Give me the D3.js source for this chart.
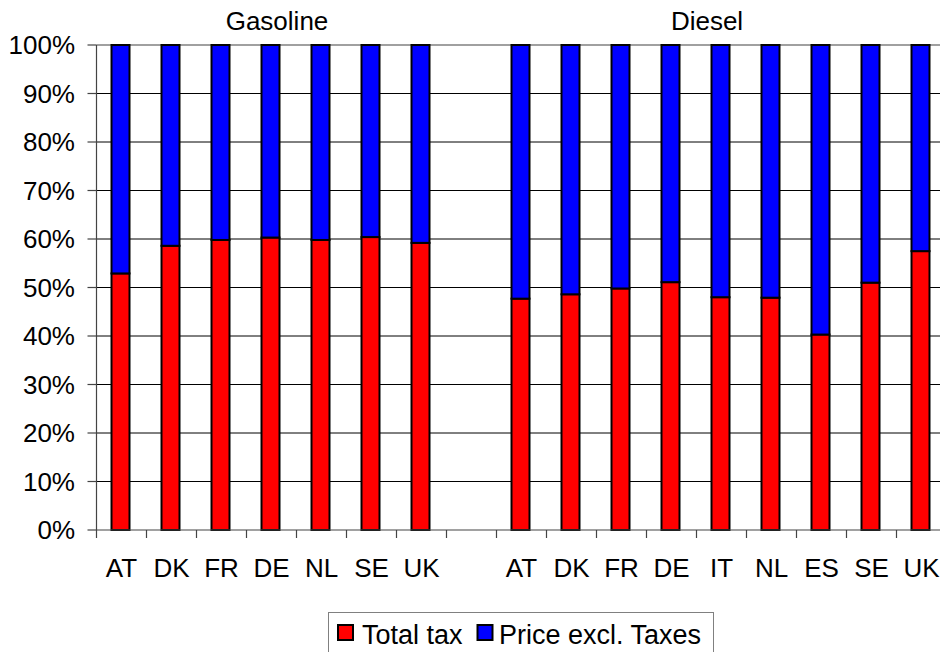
<!DOCTYPE html>
<html>
<head>
<meta charset="utf-8">
<script src="https://cdn.jsdelivr.net/npm/d3@7"></script>
<style>
  html, body { margin: 0; padding: 0; background: #fff; }
  svg { display: block; font-family: "Liberation Sans", Arial, sans-serif; }
</style>
</head>
<body>
<svg id="chart" width="940" height="652"></svg>
<script>
// Share of the pump price (percent) by fuel and country
const gasolineCountries = ["AT", "DK", "FR", "DE", "NL", "SE", "UK"];
const gasolineTax       = [52.9, 58.6, 59.8, 60.3, 59.8, 60.4, 59.2];
const gasolinePrice     = [47.1, 41.4, 40.2, 39.7, 40.2, 39.6, 40.8];

const dieselCountries = ["AT", "DK", "FR", "DE", "IT", "NL", "ES", "SE", "UK"];
const dieselTax       = [47.7, 48.6, 49.8, 51.1, 48.0, 47.9, 40.3, 51.0, 57.5];
const dieselPrice     = [52.3, 51.4, 50.2, 48.9, 52.0, 52.1, 59.7, 49.0, 42.5];

const seriesNames  = ["Total tax", "Price excl. Taxes"];
const seriesKeys   = ["tax", "price"];
const seriesColors = ["#ff0000", "#0000ff"];
const groupTitles  = ["Gasoline", "Diesel"];
const yTicks       = [0, 10, 20, 30, 40, 50, 60, 70, 80, 90, 100];

// One row per slot: gasoline, an empty spacer slot, then diesel
const rows = [];
gasolineCountries.forEach((c, i) => rows.push({ id: "g-" + c, label: c, tax: gasolineTax[i], price: gasolinePrice[i] }));
rows.push({ id: "gap", label: "", tax: 0, price: 0, empty: true });
dieselCountries.forEach((c, i) => rows.push({ id: "d-" + c, label: c, tax: dieselTax[i], price: dieselPrice[i] }));

const svg = d3.select("#chart");
const fontSize = 26;

const x = d3.scaleBand()
  .domain(rows.map(r => r.id))
  .range([96.5, 946.5])
  .padding(0);

const y = d3.scaleLinear().domain([0, 100]).range([530, 45]);

// Gridlines
svg.append("g")
  .selectAll("line")
  .data(yTicks.filter(t => t > 0))
  .join("line")
  .attr("x1", x.range()[0])
  .attr("x2", 940)
  .attr("y1", d => y(d))
  .attr("y2", d => y(d))
  .attr("stroke", d => d === 100 ? "#808080" : "#000")
  .attr("stroke-width", d => d === 100 ? 1.5 : 1);

// Stacked bars
const stacked = d3.stack().keys(seriesKeys)(rows.filter(r => !r.empty));
const barW = 18;
svg.append("g")
  .selectAll("g")
  .data(stacked)
  .join("g")
  .attr("fill", (d, i) => seriesColors[i])
  .selectAll("rect")
  .data(d => d)
  .join("rect")
  .attr("x", d => x(d.data.id) + x.bandwidth() / 2 - barW / 2 - 1)
  .attr("width", barW)
  .attr("y", d => y(d[1]))
  .attr("height", d => y(d[0]) - y(d[1]))
  .attr("stroke", "#000")
  .attr("stroke-width", 2);

// Y axis
const yAxis = svg.append("g");
yAxis.append("line")
  .attr("x1", x.range()[0]).attr("x2", x.range()[0])
  .attr("y1", y(0)).attr("y2", y(100))
  .attr("stroke", "#444").attr("stroke-width", 1.2);
yAxis.selectAll("line.tick")
  .data(yTicks)
  .join("line")
  .attr("class", "tick")
  .attr("x1", x.range()[0] - 9).attr("x2", x.range()[0])
  .attr("y1", d => y(d)).attr("y2", d => y(d))
  .attr("stroke", "#444").attr("stroke-width", 1.2);
yAxis.selectAll("text")
  .data(yTicks)
  .join("text")
  .attr("x", 75)
  .attr("y", d => y(d))
  .attr("dy", "0.36em")
  .attr("text-anchor", "end")
  .attr("font-size", fontSize)
  .attr("fill", "#000")
  .text(d => d + "%");

// X axis: baseline, ticks between categories, labels
const xAxis = svg.append("g");
xAxis.append("line")
  .attr("x1", x.range()[0]).attr("x2", 940)
  .attr("y1", y(0)).attr("y2", y(0))
  .attr("stroke", "#444").attr("stroke-width", 1.2);
const tickXs = rows.map(r => x(r.id)).concat([x.range()[1]]);
xAxis.selectAll("line.tick")
  .data(tickXs)
  .join("line")
  .attr("class", "tick")
  .attr("x1", d => d).attr("x2", d => d)
  .attr("y1", y(0)).attr("y2", y(0) + 8)
  .attr("stroke", "#444").attr("stroke-width", 1.2);
xAxis.selectAll("text")
  .data(rows.filter(r => !r.empty))
  .join("text")
  .attr("x", d => x(d.id) + x.bandwidth() / 2)
  .attr("y", 577)
  .attr("text-anchor", "middle")
  .attr("font-size", fontSize)
  .attr("fill", "#000")
  .text(d => d.label);

// Group titles above each block of bars
const titleXs = [277, 707];
svg.append("g")
  .selectAll("text")
  .data(groupTitles)
  .join("text")
  .attr("x", (d, i) => titleXs[i])
  .attr("y", 30)
  .attr("text-anchor", "middle")
  .attr("font-size", fontSize)
  .attr("fill", "#000")
  .text(d => d);

// Legend
const legend = svg.append("g");
legend.append("rect")
  .attr("x", 328.5).attr("y", 612.5)
  .attr("width", 385).attr("height", 60)
  .attr("fill", "#fff")
  .attr("stroke", "#808080").attr("stroke-width", 1);
const legendItems = [
  { swatchX: 338, textX: 362 },
  { swatchX: 477.5, textX: 499 }
];
seriesNames.forEach((name, i) => {
  legend.append("rect")
    .attr("x", legendItems[i].swatchX).attr("y", 625)
    .attr("width", 15).attr("height", 15)
    .attr("fill", seriesColors[i])
    .attr("stroke", "#000").attr("stroke-width", 2);
  legend.append("text")
    .attr("x", legendItems[i].textX).attr("y", 644)
    .attr("font-size", 27)
    .attr("fill", "#000")
    .text(name);
});
</script>
</body>
</html>
